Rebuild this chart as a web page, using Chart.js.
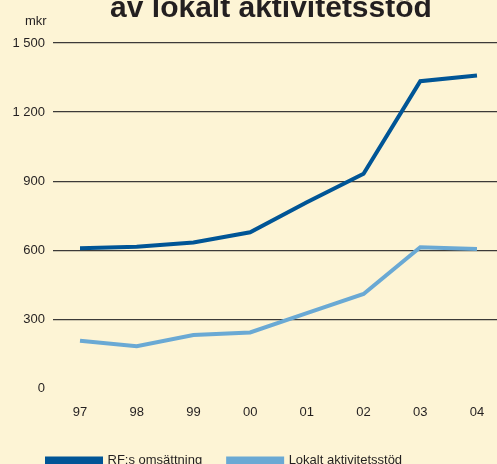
<!DOCTYPE html>
<html>
<head>
<meta charset="utf-8">
<script src="https://cdn.jsdelivr.net/npm/chart.js@4"></script>
<style>
  html, body { margin: 0; padding: 0; background: #fdf4d5; }
  #wrap { position: relative; width: 497px; height: 464px; overflow: hidden; }
  #title { position: absolute; left: 0; width: 542px; top: -10px; text-align: center;
           font: bold 30px "Liberation Sans", sans-serif; color: #231f20; white-space: nowrap; }
  #unit { position: absolute; left: 25px; top: 13px; font: 13px "Liberation Sans", sans-serif; color: #231f20; }
  #box { position: absolute; left: 0; top: 0; width: 497px; height: 480px; }
</style>
</head>
<body>
<div id="wrap">
  <div id="box"><canvas id="chart"></canvas></div>
  <div id="title">av lokalt aktivitetsstöd</div>
  <div id="unit">mkr</div>
</div>
<script>
// values (mkr)
const years = ['97', '98', '99', '00', '01', '02', '03', '04'];
const rfOmsattning = [609, 615, 634, 678, 808, 932, 1334, 1359];
const lokaltStod = [207, 183, 232, 243, 327, 410, 613, 605];
const yTicks = [0, 300, 600, 900, 1200, 1500];

// push the legend row a bit to the right, like the original
const legendShift = {
    id: 'legendShift',
    afterLayout(chart) {
        if (chart.legend) {
            chart.legend.left += 21;
            chart.legend.right += 21;
        }
    }
};

document.addEventListener('DOMContentLoaded', function() {
    const ctx = document.getElementById('chart').getContext('2d');
    const font = { family: '"Liberation Sans", sans-serif', size: 13 };

    new Chart(ctx, {
        type: 'line',
        data: {
            datasets: [
                {
                    label: 'RF:s omsättning',
                    data: rfOmsattning.map((v, i) => ({ x: i, y: v })),
                    borderColor: '#005596',
                    backgroundColor: '#005596',
                    borderWidth: 4,
                    pointRadius: 0,
                    tension: 0
                },
                {
                    label: 'Lokalt aktivitetsstöd',
                    data: lokaltStod.map((v, i) => ({ x: i, y: v })),
                    borderColor: '#6aa9d4',
                    backgroundColor: '#6aa9d4',
                    borderWidth: 4,
                    pointRadius: 0,
                    tension: 0
                }
            ]
        },
        plugins: [legendShift],
        options: {
            responsive: true,
            maintainAspectRatio: false,
            animation: false,
            layout: { padding: { top: 43, left: 0, right: 0, bottom: 3 } },
            plugins: {
                title: { display: false },
                tooltip: { enabled: false },
                legend: {
                    position: 'bottom',
                    align: 'start',
                    labels: {
                        boxWidth: 54,
                        boxHeight: 4,
                        padding: 26,
                        color: '#231f20',
                        font: font
                    }
                }
            },
            scales: {
                x: {
                    type: 'linear',
                    min: -0.476,
                    max: 7.353,
                    grid: { display: false },
                    border: { display: false },
                    afterBuildTicks: function(scale) {
                        scale.ticks = years.map((_, i) => ({ value: i }));
                    },
                    ticks: {
                        padding: 8,
                        color: '#231f20',
                        font: font,
                        maxRotation: 0,
                        callback: (v) => years[v]
                    }
                },
                y: {
                    min: 0,
                    max: 1500,
                    afterBuildTicks: function(scale) {
                        scale.ticks = yTicks.map(v => ({ value: v }));
                    },
                    afterFit: function(scale) { scale.width = 53; },
                    grid: {
                        drawTicks: false,
                        lineWidth: 1.3,
                        color: (c) => c.tick && c.tick.value === 0 ? 'rgba(0,0,0,0)' : '#3c3a38'
                    },
                    border: { display: false },
                    ticks: {
                        padding: 8,
                        color: '#231f20',
                        font: font,
                        callback: (v) => String(v).replace(/\B(?=(\d{3})+(?!\d))/g, ' ')
                    }
                }
            }
        }
    });
});
</script>
</body>
</html>
